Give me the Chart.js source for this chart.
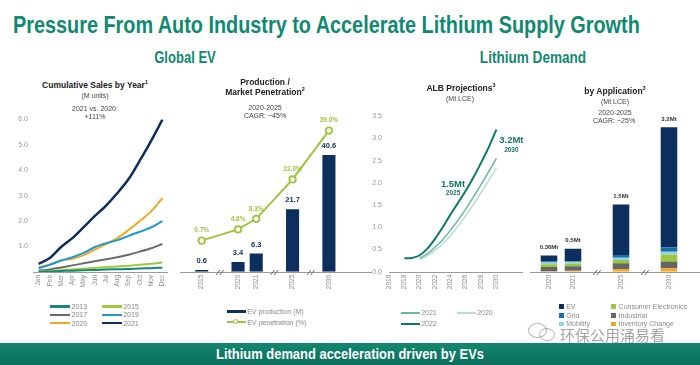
<!DOCTYPE html>
<html>
<head>
<meta charset="utf-8">
<script src="https://cdn.jsdelivr.net/npm/chart.js@4.4.1/dist/chart.umd.min.js"></script>
<style>
  body { margin: 0; width: 700px; height: 365px; background: #fff; position: relative; overflow: hidden;
         font-family: 'Liberation Sans', Arial, sans-serif; }
  canvas { position: absolute; }
  .title { position: absolute; left: 13px; top: 12px; font: bold 23px 'Liberation Sans', sans-serif;
           color: #0f8a6f; white-space: nowrap; transform-origin: 0 0; }
  .txt { position: absolute; transform: translate(-50%, -50%); white-space: nowrap; line-height: 1; }
  .sec { font: bold 16px 'Liberation Sans', sans-serif; color: #0f8a6f; }
  .h { font-weight: bold; font-size: 8.5px; color: #222; }
  .s { font-size: 7px; color: #444; }
  .h sup { font-size: 5.5px; vertical-align: top; position: relative; top: -1px; }
  .legend { position: absolute; display: grid; font-size: 7px; color: #8a8a8a; }
  .legend div { display: flex; align-items: center; white-space: nowrap; }
  .legend i { display: inline-block; margin-right: 1.5px; position: relative; }
  .footer { position: absolute; left: 0; top: 343px; width: 700px; height: 22px;
            background: linear-gradient(#13876f, #0a6f5c); }
  .footer span { position: absolute; left: 350px; top: 0; color: #fff; white-space: nowrap;
                 font: bold 15px/22px 'Liberation Sans', sans-serif; transform-origin: 0 0; }
  .wm { position: absolute; left: 560px; top: 324px; font: 15px 'Noto Sans CJK SC', sans-serif;
        color: rgba(105, 105, 105, 0.6); text-shadow: 0 0 1px #fff; }
  .bub { position: absolute; border: 1.5px solid rgba(120, 120, 120, 0.55); border-radius: 50%; }
</style>
</head>
<body>
<div class="title" id="title">Pressure From Auto Industry to Accelerate Lithium Supply Growth</div>

<canvas id="salesChart" width="175" height="190" style="left:0px; top:110px;"></canvas>
<canvas id="prodChart" width="192" height="190" style="left:180px; top:110px;"></canvas>
<canvas id="albChart" width="172" height="195" style="left:362px; top:105px;"></canvas>
<canvas id="appChart" width="170" height="195" style="left:530px; top:105px;"></canvas>

<div id="salesLegend" class="legend" style="left:50px; top:302.5px; grid-template-columns:51.7px 50px; grid-auto-rows:8.3px;"></div>
<div id="prodLegend" class="legend" style="left:226.7px; top:306.4px; grid-auto-rows:10.6px;"></div>
<div id="albLegend" class="legend" style="left:400.7px; top:307px; grid-template-columns:56px 56px; grid-auto-rows:11.3px;"></div>
<div id="appLegend" class="legend" style="left:559px; top:302.4px; grid-template-columns:52.4px 80px; grid-template-rows:repeat(3, 8.65px); grid-auto-flow:column;"></div>

<div class="bub" style="left:528px; top:323px; width:17px; height:13px;"></div>
<div class="bub" style="left:539px; top:328px; width:14px; height:11px;"></div>
<div class="wm">环保公用涌易看</div>

<div class="footer"><span id="footerText">Lithium demand acceleration driven by EVs</span></div>

<script>
// cumulative EV sales by month (M units)
const months = ['Jan', 'Feb', 'Mar', 'Apr', 'May', 'Jun', 'Jul', 'Aug', 'Sep', 'Oct', 'Nov', 'Dec'];
const sales2013 = [0.01, 0.02, 0.04, 0.05, 0.07, 0.08, 0.10, 0.11, 0.12, 0.14, 0.15, 0.17];
const sales2015 = [0.02, 0.04, 0.07, 0.10, 0.13, 0.16, 0.19, 0.22, 0.25, 0.28, 0.32, 0.37];
const sales2017 = [0.05, 0.10, 0.18, 0.26, 0.34, 0.42, 0.50, 0.58, 0.68, 0.80, 0.93, 1.10];
const sales2019 = [0.15, 0.28, 0.45, 0.58, 0.75, 0.98, 1.13, 1.25, 1.42, 1.58, 1.75, 2.00];
const sales2020 = [0.18, 0.30, 0.45, 0.52, 0.66, 0.88, 1.10, 1.33, 1.65, 2.00, 2.38, 2.90];
const sales2021 = [0.32, 0.55, 0.98, 1.33, 1.76, 2.20, 2.61, 3.10, 3.65, 4.38, 5.15, 5.98];

// production / penetration ('' = axis break)
const prodYears = ['2015', '', '2020', '2021', '', '2025', '', '2030'];
const evProduction = [0.6, null, 3.4, 6.3, null, 21.7, null, 40.6];
const evPenetration = [0.7, null, 4.6, 8.3, null, 22.0, null, 39.0];

// ALB projections (Mt LCE)
const alb2022Years = [2018, 2019, 2020, 2021, 2022, 2023, 2024, 2025, 2026, 2027, 2028, 2029, 2030];
const alb2022 = [0.30, 0.31, 0.37, 0.52, 0.74, 1.00, 1.28, 1.55, 1.82, 2.12, 2.45, 2.80, 3.20];
const albYears = [2020, 2021, 2022, 2023, 2024, 2025, 2026, 2027, 2028, 2029, 2030];
const alb2021 = [0.30, 0.40, 0.55, 0.72, 0.93, 1.16, 1.41, 1.68, 1.96, 2.25, 2.55];
const alb2020 = [0.27, 0.36, 0.48, 0.63, 0.81, 1.02, 1.26, 1.51, 1.78, 2.05, 2.33];

// demand by application (Mt LCE)
const appYears = ['2020', '2021', '', '2025', '', '2030'];
const appInventory = [0.005, 0.02, null, 0.06, null, 0.074];
const appIndustrial = [0.10, 0.10, null, 0.125, null, 0.15];
const appConsumer = [0.06, 0.06, null, 0.075, null, 0.16];
const appMobility = [0.04, 0.04, null, 0.05, null, 0.06];
const appGrid = [0.02, 0.02, null, 0.06, null, 0.09];
const appEV = [0.135, 0.27, null, 1.12, null, 2.67];
const appTotals = [0.36, 0.5, null, 1.5, null, 3.2];

const NAVY = '#0d2f5e';
const LIME = '#9dc43c';
const TEAL = '#0b7a68';

Chart.defaults.font.family = "'Liberation Sans', Arial, sans-serif";
Chart.defaults.animation = false;

// text, centre x, centre y, class, squeeze to width (narrow font look)
const headings = [
  ['Global EV', 185, 58, 'sec', 62],
  ['Lithium Demand', 533, 58, 'sec', 106],
  ['Cumulative Sales by Year<sup>1</sup>', 95, 85, 'h'],
  ['(M units)', 95, 94.5, 's'],
  ['2021 vs. 2020:', 95, 108.3, 's'],
  ['+111%', 95, 115.7, 's'],
  ['Production /', 265, 81.7, 'h'],
  ['Market Penetration<sup>2</sup>', 265, 92.3, 'h'],
  ['2020-2025', 265, 107.3, 's'],
  ['CAGR: ~45%', 265, 115, 's'],
  ['ALB Projections<sup>3</sup>', 461, 88.3, 'h'],
  ['(Mt LCE)', 460, 98.3, 's'],
  ['by Application<sup>3</sup>', 615, 91, 'h'],
  ['(Mt LCE)', 615, 101, 's'],
  ['2020-2025', 615, 111.7, 's'],
  ['CAGR: ~25%', 614, 120, 's']
];

headings.forEach(([html, x, y, cls, w]) => {
  const d = document.createElement('div');
  d.className = 'txt ' + cls;
  d.style.left = x + 'px';
  d.style.top = y + 'px';
  d.innerHTML = html;
  document.body.appendChild(d);
  if (w) d.style.transform = 'translate(-50%, -50%) scaleX(' + (w / d.offsetWidth) + ')';
});

const titleEl = document.getElementById('title');
titleEl.style.transform = 'scaleX(' + (627 / titleEl.offsetWidth) + ')';
const footEl = document.getElementById('footerText');
const fk = 268 / footEl.offsetWidth;
footEl.style.transform = 'scaleX(' + fk + ') translateX(-50%)';

// axis line + "//" break marks on empty categories
const axisPlugin = {
  id: 'axisLine',
  afterDraw(chart, args, opts) {
    const ctx = chart.ctx;
    const xs = chart.scales.x;
    const y = Math.round(xs.top) + 0.5;
    ctx.save();
    ctx.strokeStyle = '#9a9a9a';
    ctx.lineWidth = 1;
    ctx.beginPath();
    ctx.moveTo(opts.extend ? 0 : chart.chartArea.left, y);
    ctx.lineTo(opts.extend ? chart.width : chart.chartArea.right, y);
    ctx.stroke();
    ctx.strokeStyle = '#666';
    chart.data.labels.forEach((lab, i) => {
      if (lab !== '') return;
      const px = xs.getPixelForValue(i);
      [-1.8, 1.8].forEach(dx => {
        ctx.beginPath();
        ctx.moveTo(px + dx - 2, y + 2.5);
        ctx.lineTo(px + dx + 2, y - 2.5);
        ctx.stroke();
      });
    });
    ctx.restore();
  }
};

const noGrid = { display: false, drawTicks: false };

function rotatedTicks(size) {
  return { color: '#8a8a8a', font: { size: size }, minRotation: 90, maxRotation: 90, autoSkip: false, padding: 3 };
}

// ---- cumulative sales
const salesSeries = [
  { label: '2013', data: sales2013, color: '#17877a' },
  { label: '2015', data: sales2015, color: '#9ccc3c' },
  { label: '2017', data: sales2017, color: '#6b6b6b' },
  { label: '2019', data: sales2019, color: '#1b9ad6' },
  { label: '2020', data: sales2020, color: '#f5a623' },
  { label: '2021', data: sales2021, color: NAVY }
];

new Chart(document.getElementById('salesChart'), {
  type: 'line',
  data: {
    labels: months,
    datasets: salesSeries.map(s => ({
      label: s.label,
      data: s.data,
      borderColor: s.color,
      borderWidth: s.label === '2021' ? 2.5 : 2,
      pointRadius: 0,
      tension: 0.3,
      fill: false
    }))
  },
  options: {
    responsive: false,
    layout: { padding: { top: 9, right: 7, left: 0, bottom: 0 } },
    plugins: { legend: { display: false }, tooltip: { enabled: false }, axisLine: {} },
    scales: {
      x: {
        offset: true,
        grid: noGrid,
        border: { display: false },
        ticks: rotatedTicks(6.5),
        afterFit(s) { s.height = 28; }
      },
      y: {
        min: 0,
        max: 6,
        grid: noGrid,
        border: { display: false },
        ticks: { stepSize: 1, color: '#9a9a9a', font: { size: 7 }, padding: 5, callback: v => v === 0 ? '' : v.toFixed(1) },
        afterFit(s) { s.width = 33; }
      }
    }
  },
  plugins: [axisPlugin]
});

// ---- production / penetration
const prodLabels = {
  id: 'prodLabels',
  afterDatasetsDraw(chart) {
    const ctx = chart.ctx;
    const bars = chart.getDatasetMeta(0).data;
    const pts = chart.getDatasetMeta(1).data;
    ctx.save();
    ctx.textAlign = 'center';
    ctx.textBaseline = 'middle';
    ctx.font = 'bold 7.5px "Liberation Sans"';
    ctx.fillStyle = NAVY;
    evProduction.forEach((v, i) => {
      if (v === null) return;
      ctx.fillText(v.toFixed(1), bars[i].x, bars[i].y - 9);
    });
    ctx.font = 'bold 6.5px "Liberation Sans"';
    ctx.fillStyle = LIME;
    evPenetration.forEach((v, i) => {
      if (v === null) return;
      ctx.fillText(v.toFixed(1) + '%', pts[i].x, pts[i].y - 10);
    });
    ctx.restore();
  }
};

new Chart(document.getElementById('prodChart'), {
  data: {
    labels: prodYears,
    datasets: [
      {
        type: 'bar',
        label: 'EV production (M)',
        data: evProduction,
        yAxisID: 'y',
        backgroundColor: NAVY,
        categoryPercentage: 1,
        barPercentage: 0.72,
        order: 1
      },
      {
        type: 'line',
        label: 'EV penetration (%)',
        data: evPenetration,
        yAxisID: 'y2',
        borderColor: LIME,
        borderWidth: 2,
        pointRadius: 3.2,
        pointBackgroundColor: '#fff',
        pointBorderColor: LIME,
        pointBorderWidth: 1.8,
        spanGaps: true,
        clip: false,
        order: 0
      }
    ]
  },
  options: {
    responsive: false,
    layout: { padding: { top: 18, right: 34, left: 12.6, bottom: 0 } },
    plugins: { legend: { display: false }, tooltip: { enabled: false }, axisLine: { extend: true } },
    scales: {
      x: {
        grid: noGrid,
        border: { display: false },
        ticks: rotatedTicks(6.5),
        afterFit(s) { s.height = 28.3; }
      },
      y: { display: false, min: 0, max: 50 },
      y2: { display: false, min: -10.1, max: 39.9 }
    }
  },
  plugins: [axisPlugin, prodLabels]
});

// ---- ALB projections
const albNotes = [
  { year: 2025, big: '1.5Mt', small: '2025', dx: -5, dy: -18.6 },
  { year: 2030, big: '3.2Mt', small: '2030', dx: 15, dy: 11 }
];

const albLabels = {
  id: 'albLabels',
  afterDatasetsDraw(chart) {
    const ctx = chart.ctx;
    const pts = chart.getDatasetMeta(2).data;
    ctx.save();
    ctx.textAlign = 'center';
    ctx.textBaseline = 'middle';
    ctx.fillStyle = '#137565';
    albNotes.forEach(n => {
      const p = pts[alb2022Years.indexOf(n.year)];
      ctx.font = 'bold 9.5px "Liberation Sans"';
      ctx.fillText(n.big, p.x + n.dx, p.y + n.dy);
      ctx.font = 'bold 6.5px "Liberation Sans"';
      ctx.fillText(n.small, p.x + n.dx, p.y + n.dy + 9.3);
    });
    ctx.restore();
  }
};

const toPoints = (xs, ys) => xs.map((x, i) => ({ x: x, y: ys[i] }));

new Chart(document.getElementById('albChart'), {
  type: 'line',
  data: {
    datasets: [
      { label: '2020', data: toPoints(albYears, alb2020), borderColor: '#b7ded2', borderWidth: 1.5, pointRadius: 0, tension: 0.3 },
      { label: '2021', data: toPoints(albYears, alb2021), borderColor: '#6ab6a3', borderWidth: 1.5, pointRadius: 0, tension: 0.3 },
      { label: '2022', data: toPoints(alb2022Years, alb2022), borderColor: TEAL, borderWidth: 2, pointRadius: 0, tension: 0.3 }
    ]
  },
  options: {
    responsive: false,
    layout: { padding: { top: 9, right: 4, left: 0, bottom: 0 } },
    plugins: { legend: { display: false }, tooltip: { enabled: false }, axisLine: {} },
    scales: {
      x: {
        type: 'linear',
        min: 2016,
        max: 2033.5,
        grid: noGrid,
        border: { display: false },
        ticks: Object.assign(rotatedTicks(6.5), { stepSize: 2, callback: v => v <= 2030 && v % 2 === 0 ? String(v) : '' }),
        afterFit(s) { s.height = 28.3; }
      },
      y: {
        min: 0,
        max: 3.5,
        grid: noGrid,
        border: { display: false },
        ticks: { stepSize: 0.5, color: '#9a9a9a', font: { size: 7 }, padding: 7, callback: v => v.toFixed(1) },
        afterFit(s) { s.width = 27; }
      }
    }
  },
  plugins: [axisPlugin, albLabels]
});

// ---- by application
const appSeries = [
  { label: 'Inventory Change', data: appInventory, color: '#f5a623' },
  { label: 'Industrial', data: appIndustrial, color: '#666666' },
  { label: 'Consumer Electronics', data: appConsumer, color: '#9cc93c' },
  { label: 'Mobility', data: appMobility, color: '#8fd3f0' },
  { label: 'Grid', data: appGrid, color: '#1b6fa8' },
  { label: 'EV', data: appEV, color: NAVY }
];

const appLabels = {
  id: 'appLabels',
  afterDatasetsDraw(chart) {
    const ctx = chart.ctx;
    const top = chart.getDatasetMeta(appSeries.length - 1).data;
    ctx.save();
    ctx.textAlign = 'center';
    ctx.textBaseline = 'middle';
    ctx.font = 'bold 6px "Liberation Sans"';
    ctx.fillStyle = '#333';
    appTotals.forEach((v, i) => {
      if (v === null) return;
      ctx.fillText(v + 'Mt', top[i].x, top[i].y - 8);
    });
    ctx.restore();
  }
};

new Chart(document.getElementById('appChart'), {
  type: 'bar',
  data: {
    labels: appYears,
    datasets: appSeries.map(s => ({
      label: s.label,
      data: s.data,
      backgroundColor: s.color,
      categoryPercentage: 1,
      barPercentage: 0.69
    }))
  },
  options: {
    responsive: false,
    layout: { padding: { top: 8.85, right: 19, left: 7, bottom: 0 } },
    plugins: { legend: { display: false }, tooltip: { enabled: false }, axisLine: { extend: true } },
    scales: {
      x: {
        stacked: true,
        grid: noGrid,
        border: { display: false },
        ticks: rotatedTicks(6.5),
        afterFit(s) { s.height = 28.3; }
      },
      y: { stacked: true, display: false, min: 0, max: 3.5 }
    }
  },
  plugins: [axisPlugin, appLabels]
});

// ---- legends
function legendItem(box, label) {
  const row = document.createElement('div');
  row.appendChild(box);
  row.appendChild(document.createTextNode(label));
  return row;
}

function lineSwatch(color, width, thick) {
  const i = document.createElement('i');
  i.style.width = width + 'px';
  i.style.height = thick + 'px';
  i.style.background = color;
  return i;
}

const salesLegend = document.getElementById('salesLegend');
salesSeries.forEach(s => salesLegend.appendChild(legendItem(lineSwatch(s.color, 20, 2.5), s.label)));

const prodLegend = document.getElementById('prodLegend');
prodLegend.appendChild(legendItem(lineSwatch(NAVY, 19, 3), 'EV production (M)'));
const penSwatch = lineSwatch(LIME, 19, 2);
const dot = document.createElement('span');
dot.style.cssText = 'position:absolute; left:6.5px; top:-2px; width:3px; height:3px; border:1.5px solid ' + LIME + '; border-radius:50%; background:#fff;';
penSwatch.appendChild(dot);
prodLegend.appendChild(legendItem(penSwatch, 'EV penetration (%)'));

const albLegend = document.getElementById('albLegend');
[['2021', '#6ab6a3'], ['2020', '#b7ded2'], ['2022', TEAL]].forEach(([lab, col]) => {
  albLegend.appendChild(legendItem(lineSwatch(col, 19, 1.8), lab));
});

const appLegend = document.getElementById('appLegend');
['EV', 'Grid', 'Mobility', 'Consumer Electronics', 'Industrial', 'Inventory Change'].forEach(lab => {
  const s = appSeries.find(a => a.label === lab);
  const sq = lineSwatch(s.color, 4.7, 4.7);
  sq.style.marginRight = '2.5px';
  appLegend.appendChild(legendItem(sq, lab));
});
</script>
</body>
</html>
